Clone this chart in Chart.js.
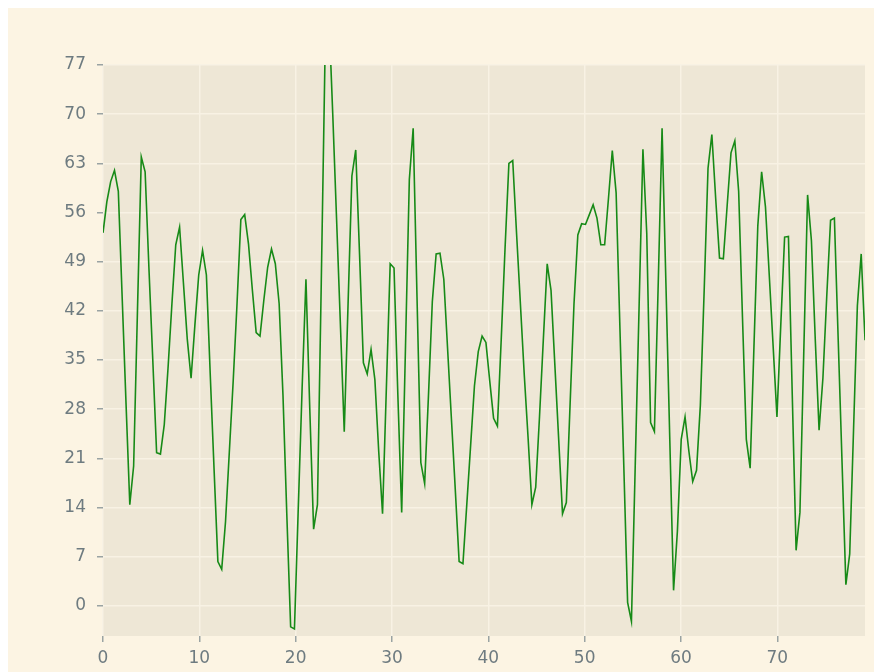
<!DOCTYPE html>
<html>
<head>
<meta charset="utf-8">
<script src="https://cdn.jsdelivr.net/npm/chart.js@4.4.1/dist/chart.umd.min.js"></script>
<style>
  html, body { margin: 0; padding: 0; background: #ffffff; overflow: hidden; }
  #wrap { position: absolute; left: 8px; top: 8px; width: 866px; height: 664px; background: #fcf4e3; }
</style>
</head>
<body>
<div id="wrap"><canvas id="lineChart" width="866" height="664"></canvas></div>
<script>
// values, one per sample
const values = [
  53.1, 57.5, 60.4, 62.0, 59.0, 44, 29, 14.4, 19.9, 42,
  63.9, 61.8, 48, 35, 21.8, 21.6, 25.8, 34, 43, 51.4,
  53.9, 46, 38, 32.4, 40, 47.1, 50.6, 47.1, 33, 19.5,
  6.3, 5.2, 12, 22, 32, 43, 55.0, 55.7, 51.5, 45,
  38.9, 38.4, 43.5, 48.2, 50.8, 48.7, 43, 30, 13, -3.0,
  -3.3, 14, 31, 46.5, 28, 10.9, 14.4, 46, 79, 84,
  70, 55, 40, 24.8, 43, 61.2, 64.9, 50, 34.6, 33.0,
  36.5, 32.2, 22, 13.1, 31, 48.7, 48.1, 30, 13.3, 37,
  60.7, 68.0, 44, 20.4, 17.4, 30, 43.3, 50.1, 50.2, 46.5,
  36.5, 26.5, 16.5, 6.3, 6.0, 14.4, 22.8, 31.3, 36.2, 38.4,
  37.5, 32, 26.7, 25.6, 38, 51, 63.0, 63.4, 53, 43,
  33, 24, 14.4, 16.9, 27, 38, 48.7, 44.9, 34.3, 23.7,
  13.1, 14.7, 29, 43, 52.8, 54.4, 54.3, 55.7, 57.1, 55.2,
  51.4, 51.4, 58, 64.8, 58.8, 39.4, 20, 0.5, -2.2, 20.2,
  42.6, 65.0, 53, 26.1, 24.8, 46, 68.0, 46, 24, 2.2,
  10.6, 23.7, 26.9, 22, 17.7, 19.3, 28.6, 45, 62.3, 67.1,
  58, 49.5, 49.4, 57, 64.5, 66.2, 59, 41, 23.7, 19.6,
  37, 54.1, 61.8, 56.8, 47, 37, 26.9, 40, 52.5, 52.6,
  30, 7.9, 13.3, 36, 58.5, 52, 38, 25.0, 32.4, 44,
  54.9, 55.2, 37.8, 20.4, 3.0, 7.4, 25, 42.7, 50.1, 37.8
];
const xStep = 0.3975;
const xTicks = [0, 10, 20, 30, 40, 50, 60, 70];
const yTicks = [0, 7, 14, 21, 28, 35, 42, 49, 56, 63, 70, 77];

const points = values.map((v, i) => ({ x: i * xStep, y: v }));

const tickFont = { family: 'DejaVu Sans', size: 17 };
const tickColor = '#6e7b80';

const plotBackground = {
  id: 'plotBackground',
  beforeDraw(chart) {
    const { ctx, chartArea: a } = chart;
    ctx.save();
    ctx.fillStyle = '#eee7d6';
    ctx.fillRect(a.left, a.top, a.right - a.left, a.bottom - a.top);
    ctx.restore();
  }
};

const ctx = document.getElementById('lineChart').getContext('2d');
const lineChart = new Chart(ctx, {
  type: 'line',
  data: {
    datasets: [{
      data: points,
      borderColor: '#178a17',
      borderWidth: 1.6,
      pointRadius: 0,
      tension: 0,
      fill: false
    }]
  },
  options: {
    responsive: false,
    animation: false,
    layout: { padding: { top: 57, right: 9, left: 0, bottom: 0 } },
    plugins: { legend: { display: false }, tooltip: { enabled: false } },
    scales: {
      x: {
        type: 'linear',
        min: 0,
        max: 79.1,
        afterBuildTicks: axis => { axis.ticks = xTicks.map(v => ({ value: v })); },
        afterFit: axis => { axis.height = 36; },
        border: { display: false },
        grid: { color: '#f8f2e4', lineWidth: 1.5, tickColor: '#9aa3a3', tickLength: 6 },
        ticks: { color: tickColor, font: tickFont, padding: 6, maxRotation: 0 }
      },
      y: {
        min: -4.3,
        max: 77,
        afterBuildTicks: axis => { axis.ticks = yTicks.map(v => ({ value: v })); },
        afterFit: axis => { axis.width = 95; },
        border: { display: false },
        grid: { color: '#f8f2e4', lineWidth: 1.5, tickColor: '#9aa3a3', tickLength: 6 },
        ticks: { color: tickColor, font: tickFont, padding: 11 }
      }
    }
  },
  plugins: [plotBackground]
});
</script>
</body>
</html>
